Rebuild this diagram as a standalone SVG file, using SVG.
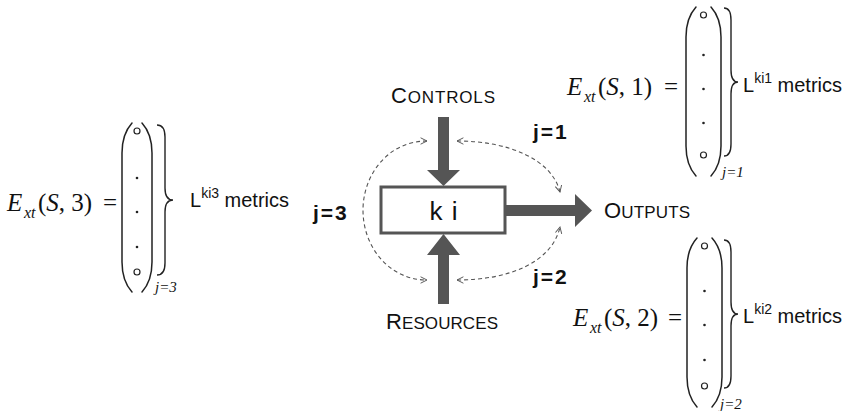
<svg xmlns="http://www.w3.org/2000/svg" width="857" height="411" viewBox="0 0 857 411">
<style>
  .m { font-family: "Liberation Serif", "Times New Roman", serif; font-size: 25px; fill: #111; }
  .it { font-style: italic; }
  .sub { font-size: 16px; }
  .sj { font-family: "Liberation Serif", "Times New Roman", serif; font-size: 15px; font-style: italic; fill: #111; }
  .sans { font-family: "Liberation Sans", Arial, sans-serif; fill: #111; }
  .met { font-size: 20px; }
  .sup { font-size: 14px; }
  .cap { font-size: 22px; }
  .sc { font-size: 17px; }
  .jl { font-family: "Liberation Sans", Arial, sans-serif; font-weight: bold; font-size: 21px; letter-spacing: 2px; fill: #111; }
  .par { fill: none; stroke: #222; stroke-width: 1.5; stroke-linecap: round; }
  .brace { fill: none; stroke: #222; stroke-width: 1.4; }
  .circ { fill: none; stroke: #222; stroke-width: 1.2; }
  .dot { fill: #222; }
  .big { fill: #555; }
  .dash { fill: none; stroke: #555; stroke-width: 1.1; stroke-dasharray: 4 3; }
</style>
<defs>
  <marker id="chev" viewBox="0 0 10 10" refX="9" refY="5" markerWidth="8" markerHeight="8" markerUnits="userSpaceOnUse" orient="auto-start-reverse">
    <path d="M1,1 L9,5 L1,9" fill="none" stroke="#555" stroke-width="1.2"/>
  </marker>
</defs>

<!-- Left vector E_xt(S,3) -->
<g id="vec3">
  <text class="m" x="7" y="211"><tspan class="it">E</tspan><tspan class="it sub" x="24" y="218">xt</tspan><tspan x="38" y="211">(</tspan><tspan class="it">S</tspan>, 3)<tspan x="103">=</tspan></text>
  <path class="par" d="M132,123 Q122,134 122,153 L122,262 Q122,281 132,292"/>
  <path class="par" d="M142,123 Q152,134 152,153 L152,262 Q152,281 142,292"/>
  <circle class="circ" cx="137" cy="131" r="3"/>
  <circle class="dot" cx="137" cy="178" r="1.3"/>
  <circle class="dot" cx="137" cy="212" r="1.3"/>
  <circle class="dot" cx="137" cy="247" r="1.3"/>
  <circle class="circ" cx="137" cy="272" r="3"/>
  <path class="brace" d="M157,125 Q165,125 165,137 L165,188 Q165,200 173,200 Q165,200 165,212 L165,263 Q165,275 157,275"/>
  <text class="sj" x="155" y="292">j=3</text>
  <text class="sans met" x="190" y="207">L<tspan class="sup" y="198">ki3</tspan><tspan y="207"> metrics</tspan></text>
</g>

<!-- Top right vector E_xt(S,1) -->
<g id="vec1">
  <text class="m" x="567" y="95"><tspan class="it">E</tspan><tspan class="it sub" x="584" y="102">xt</tspan><tspan x="598" y="95">(</tspan><tspan class="it">S</tspan>, 1)<tspan x="664">=</tspan></text>
  <path class="par" d="M696,7 Q686,18 686,37 L686,146 Q686,165 696,176"/>
  <path class="par" d="M711,7 Q721,18 721,37 L721,146 Q721,165 711,176"/>
  <circle class="circ" cx="703.5" cy="15" r="3"/>
  <circle class="dot" cx="703.5" cy="55" r="1.3"/>
  <circle class="dot" cx="703.5" cy="89" r="1.3"/>
  <circle class="dot" cx="703.5" cy="123" r="1.3"/>
  <circle class="circ" cx="703.5" cy="155" r="3"/>
  <path class="brace" d="M724,8 Q731,8 731,20 L731,70 Q731,82 738,82 Q731,82 731,94 L731,144 Q731,156 724,156"/>
  <text class="sj" x="722" y="177">j=1</text>
  <text class="sans met" x="743" y="92">L<tspan class="sup" y="83">ki1</tspan><tspan y="92"> metrics</tspan></text>
</g>

<!-- Bottom right vector E_xt(S,2) -->
<g id="vec2">
  <text class="m" x="573" y="326"><tspan class="it">E</tspan><tspan class="it sub" x="590" y="333">xt</tspan><tspan x="604" y="326">(</tspan><tspan class="it">S</tspan>, 2)<tspan x="668">=</tspan></text>
  <path class="par" d="M697,238 Q687,249 687,268 L687,377 Q687,396 697,407"/>
  <path class="par" d="M712,238 Q722,249 722,268 L722,377 Q722,396 712,407"/>
  <circle class="circ" cx="704.5" cy="246" r="3"/>
  <circle class="dot" cx="704.5" cy="291" r="1.3"/>
  <circle class="dot" cx="704.5" cy="325" r="1.3"/>
  <circle class="dot" cx="704.5" cy="360" r="1.3"/>
  <circle class="circ" cx="704.5" cy="386" r="3"/>
  <path class="brace" d="M724,240 Q731,240 731,252 L731,302 Q731,314 738,314 Q731,314 731,326 L731,376 Q731,388 724,388"/>
  <text class="sj" x="720" y="409">j=2</text>
  <text class="sans met" x="743" y="323">L<tspan class="sup" y="314">ki2</tspan><tspan y="323"> metrics</tspan></text>
</g>

<!-- Central process -->
<g id="controls">
  <text class="sans" x="391" y="103" textLength="104" lengthAdjust="spacing"><tspan class="cap">C</tspan><tspan class="sc">ONTROLS</tspan></text>
</g>
<g id="resources">
  <text class="sans" x="386" y="329" textLength="112" lengthAdjust="spacing"><tspan class="cap">R</tspan><tspan class="sc">ESOURCES</tspan></text>
</g>
<g id="outputs">
  <text class="sans" x="604" y="218" textLength="86" lengthAdjust="spacing"><tspan class="cap">O</tspan><tspan class="sc">UTPUTS</tspan></text>
</g>
<g id="ki">
  <rect x="381" y="187" width="124" height="46" fill="#fff" stroke="#555" stroke-width="3"/>
  <text class="sans" x="444" y="220" font-size="26" text-anchor="middle" letter-spacing="1">k i</text>
</g>

<g id="connectors">
  <polygon class="big" points="438,117 449,117 449,170 460,170 443.5,186 427,170 438,170"/>
  <polygon class="big" points="438,304 449,304 449,255 460,255 443.5,234 427,255 438,255"/>
  <polygon class="big" points="506,205 575,205 575,194 592,210.5 575,227 575,216 506,216"/>
  <path class="dash" d="M427,141 C388,141 363,175 363,210 C363,248 390,280 427,280" marker-start="url(#chev)" marker-end="url(#chev)"/>
  <path class="dash" d="M457,141 C510,141 552,160 560,192" marker-start="url(#chev)" marker-end="url(#chev)"/>
  <path class="dash" d="M457,280 C510,280 552,262 560,227" marker-start="url(#chev)" marker-end="url(#chev)"/>
  <text class="jl" x="533" y="139">j=1</text>
  <text class="jl" x="533" y="284">j=2</text>
  <text class="jl" x="313" y="220">j=3</text>
</g>
</svg>
